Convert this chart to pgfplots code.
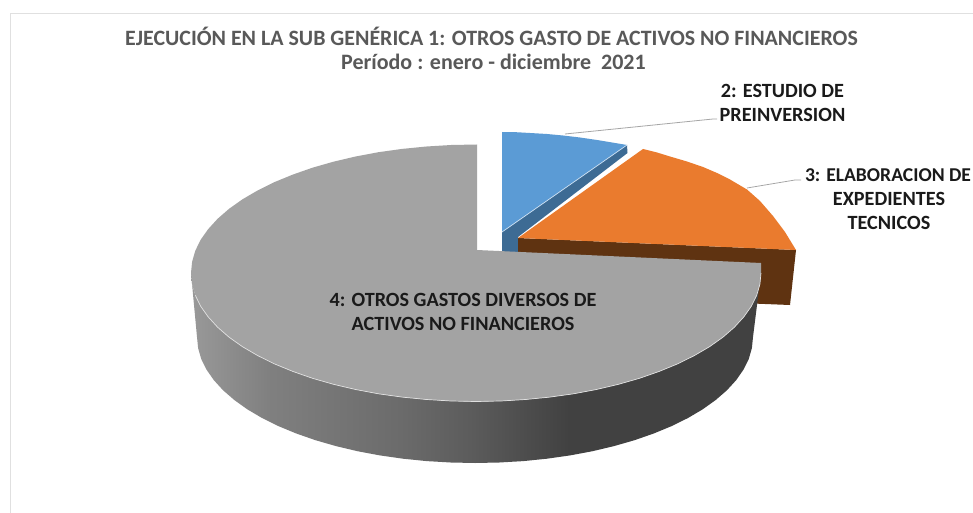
\documentclass[border=0pt]{standalone}
\usepackage{pgfplots}
\pgfplotsset{compat=1.18}
\usepackage{fontspec}
\setmainfont{Carlito}
\definecolor{tgrey}{HTML}{A3A3A3}
\definecolor{torange}{HTML}{EA7B2E}
\definecolor{tbrown}{HTML}{5F3311}
\definecolor{tblue}{HTML}{5B9BD5}
\definecolor{tdblue}{HTML}{3D6B94}
\definecolor{ttitle}{HTML}{595959}
\definecolor{tlabel}{HTML}{1A1A1A}
\pgfdeclarehorizontalshading{sideshade}{100bp}{
 color(0bp)=(black!40); color(25bp)=(black!40); color(31.9bp)=(black!50); color(43.3bp)=(black!58);
 color(49.5bp)=(black!64); color(58.2bp)=(black!74.5); color(75bp)=(black!74.5); color(100bp)=(black!74.5)}
\begin{document}
\begin{tikzpicture}
\begin{axis}[width=973pt,height=513pt,scale only axis,xmin=0,xmax=973,ymin=0,ymax=513,y dir=reverse,hide axis]
% background and frame
\addplot[fill=white,draw=none,forget plot] coordinates {(0,0)(973,0)(973,513)(0,513)} -- cycle;
\addplot[color=black!12,line width=1.5pt,no marks,forget plot] coordinates {(973,13.5)(10.5,13.5)(10.5,513)};
% blue slice
\addplot[fill=tdblue,draw=none,forget plot] coordinates {(502,232)(627,145)(627.5,153)(518,237)(518,254)(502,254)} -- cycle;
\addplot[fill=tblue,draw=none,forget plot] coordinates {(502,232)(502,132)(516,132.2)(530,133)(547,134)(563,135.5)(580,137.5)(597,140)(612,142.5)(627,145)} -- cycle;
\addplot[color=white!70!tblue,line width=.7pt,no marks,forget plot] coordinates {(502,232)(627,145)};
% orange slice
\addplot[fill=tbrown,draw=none,forget plot] coordinates {(518,238)(796,250)(790,305)(740,303)(518,270)} -- cycle;
\addplot[fill=torange,draw=none,forget plot] coordinates {(518,238)(643,149)(657,152.5)(670,156.5)(687,161.5)(703,167)(717,173)(730,179.5)(747,189.5)(760,201)(773,216)(785,232)(796,250)} -- cycle;
% grey side
\addplot[shade,shading=sideshade,draw=none,forget plot] coordinates {
(191,273)(192.1,284.2)(195.3,295.3)(200.7,306.3)(208.2,316.9)(217.7,327.3)(229.2,337.3)(242.5,346.7)(257.7,355.6)(274.5,363.9)(292.8,371.4)(312.5,378.3)(333.5,384.3)(355.6,389.5)(378.5,393.8)(402.2,397.1)(426.5,399.5)(451.2,401)(476,401.5)(500.8,401)(525.5,399.5)(549.8,397.1)(573.5,393.8)(596.4,389.5)(618.5,384.3)(639.5,378.3)(659.2,371.4)(677.5,363.9)(694.3,355.6)(709.5,346.7)(722.8,337.3)(734.3,327.3)(743.8,316.9)(751.3,306.3)(756.7,295.3)(759.9,284.2)(761,273)
(753,337)(751.9,348)(748.8,358.9)(743.5,369.6)(736.2,380.1)(727,390.2)(715.7,400)(702.7,409.3)(688,418)(671.6,426.1)(653.7,433.5)(634.5,440.2)(614,446.1)(592.5,451.2)(570.1,455.4)(547,458.7)(523.3,461.1)(499.2,462.5)(475,463)(450.8,462.5)(426.7,461.1)(403,458.7)(379.9,455.4)(357.5,451.2)(336,446.1)(315.5,440.2)(296.3,433.5)(278.4,426.1)(262,418)(247.3,409.3)(234.3,400)(223,390.2)(213.8,380.1)(206.5,369.6)(201.2,358.9)(198.1,348)(197,337)} -- cycle;
% grey top
\addplot[fill=tgrey,draw=none,forget plot] coordinates {
(477,250)(477,144.5)(451.2,145)(426.5,146.5)(402.2,148.9)(378.5,152.2)(355.6,156.5)(333.5,161.7)(312.5,167.7)(292.8,174.6)(274.5,182.1)(257.7,190.4)(242.5,199.3)(229.2,208.7)(217.7,218.7)(208.2,229.1)(200.7,239.7)(195.3,250.7)(192.1,261.8)(191,273)
(192.1,284.2)(195.3,295.3)(200.7,306.3)(208.2,316.9)(217.7,327.3)(229.2,337.3)(242.5,346.7)(257.7,355.6)(274.5,363.9)(292.8,371.4)(312.5,378.3)(333.5,384.3)(355.6,389.5)(378.5,393.8)(402.2,397.1)(426.5,399.5)(451.2,401)(476,401.5)(500.8,401)(525.5,399.5)(549.8,397.1)(573.5,393.8)(596.4,389.5)(618.5,384.3)(639.5,378.3)(659.2,371.4)(677.5,363.9)(694.3,355.6)(709.5,346.7)(722.8,337.3)(734.3,327.3)(743.8,316.9)(751.3,306.3)(756.7,295.3)(759.9,284.2)(761,273)(761,263)} -- cycle;
\addplot[color=black!12,line width=.7pt,no marks,forget plot] coordinates {
(195.3,295.3)(200.7,306.3)(208.2,316.9)(217.7,327.3)(229.2,337.3)(242.5,346.7)(257.7,355.6)(274.5,363.9)(292.8,371.4)(312.5,378.3)(333.5,384.3)(355.6,389.5)(378.5,393.8)(402.2,397.1)(426.5,399.5)(451.2,401)(476,401.5)(500.8,401)(525.5,399.5)(549.8,397.1)(573.5,393.8)(596.4,389.5)(618.5,384.3)(639.5,378.3)(659.2,371.4)(677.5,363.9)(694.3,355.6)(709.5,346.7)(722.8,337.3)(734.3,327.3)(743.8,316.9)(751.3,306.3)(756.7,295.3)(759.9,284.2)(761,273)};
% leaders
\addplot[color=black!35,line width=.8pt,no marks,forget plot] coordinates {(565,134)(713,119)(717,119)};
\addplot[color=black!35,line width=.8pt,no marks,forget plot] coordinates {(747,188)(795,180)(801,180)};
% text
\node[font=\fontsize{21.9}{24}\selectfont\bfseries,text=ttitle,inner sep=0pt] at (axis cs:491.5,36) {EJECUCIÓN EN LA SUB GENÉRICA 1: OTROS GASTO DE ACTIVOS NO FINANCIEROS};
\node[font=\fontsize{22}{24}\selectfont\bfseries,text=ttitle,inner sep=0pt] at (axis cs:493.5,61.5) {Período : enero - diciembre\ \ 2021};
\node[font=\fontsize{20.2}{24}\selectfont\bfseries,text=tlabel,inner sep=0pt] at (axis cs:782.5,91) {2: ESTUDIO DE};
\node[font=\fontsize{20.2}{24}\selectfont\bfseries,text=tlabel,inner sep=0pt] at (axis cs:782.5,115) {PREINVERSION};
\node[font=\fontsize{19.6}{24}\selectfont\bfseries,text=tlabel,inner sep=0pt] at (axis cs:888,175) {3: ELABORACION DE};
\node[font=\fontsize{20.2}{24}\selectfont\bfseries,text=tlabel,inner sep=0pt] at (axis cs:889,199) {EXPEDIENTES};
\node[font=\fontsize{20.2}{24}\selectfont\bfseries,text=tlabel,inner sep=0pt] at (axis cs:889,223) {TECNICOS};
\node[font=\fontsize{20.2}{24}\selectfont\bfseries,text=tlabel,inner sep=0pt] at (axis cs:463,299.5) {4: OTROS GASTOS DIVERSOS DE};
\node[font=\fontsize{20.2}{24}\selectfont\bfseries,text=tlabel,inner sep=0pt] at (axis cs:463,323.5) {ACTIVOS NO FINANCIEROS};
\end{axis}
\end{tikzpicture}
\end{document}
